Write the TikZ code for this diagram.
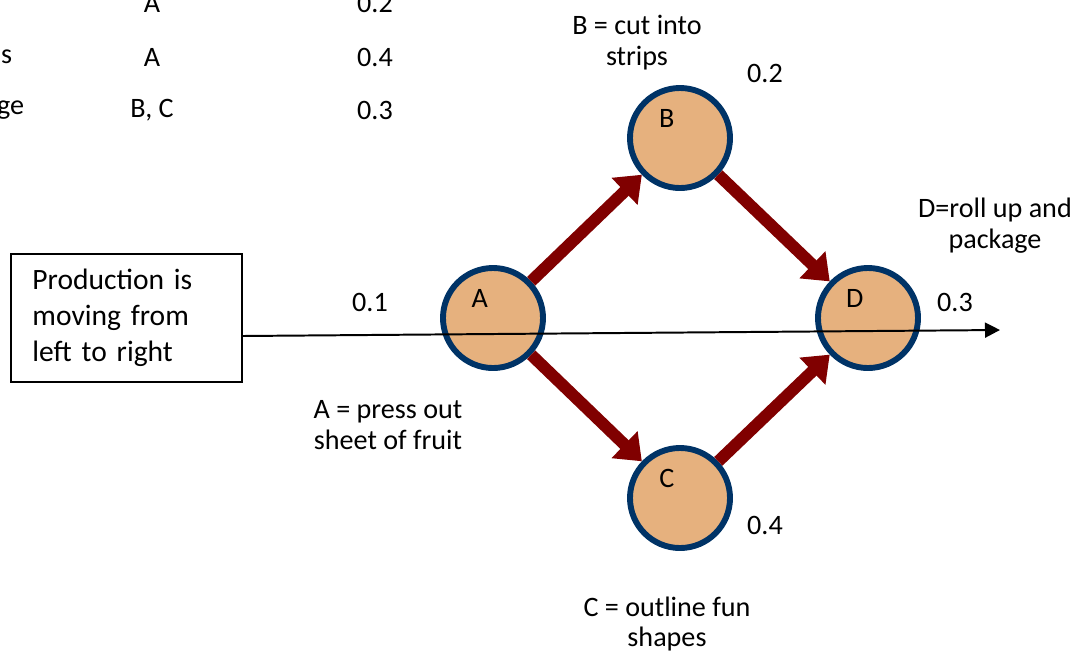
\documentclass[tikz,border=0pt]{standalone}
\usepackage{fontspec}
\setmainfont{Carlito}
\usepackage{xcolor}
\usetikzlibrary{arrows.meta, positioning}
\definecolor{stepfill}{HTML}{E6B17E}
\definecolor{stepedge}{HTML}{003366}
\definecolor{flowred}{HTML}{800000}
\tikzset{
    stepnode/.style={circle, draw=stepedge, fill=stepfill, line width=4.2pt,
        minimum size=2.5cm, inner sep=0pt},
    steplabel/.style={label={[xshift=-0.33cm, yshift=0.5cm, font=\fontsize{20}{22}\selectfont]center:#1}},
    flowarrow/.style={draw=flowred, line width=8.5pt,
        -{Triangle[length=0.6cm, width=0.9cm]}},
    note/.style={align=center, font=\fontsize{20}{22}\selectfont},
    cell/.style={font=\fontsize{20}{22}\selectfont}
}
\begin{document}
\begin{tikzpicture}[x=0.025cm, y=-0.025cm]
        \useasboundingbox (0,0) rectangle (1086,654);
        \clip (0,0) rectangle (1086,654);
        % part of the activity table
        \node[cell] (pre1) at (152,3) {A};
        \node[cell] (dur1) at (375,3) {0.2};
        \node[cell, anchor=east] (act2) at (17,57) {s};
        \node[cell, anchor=east] (act3) at (29,110) {ge};
        \node[cell] (pre2) at (152,57) {A};
        \node[cell] (dur2) at (375,57) {0.4};
        \node[cell] (pre3) at (152,110) {B, C};
        \node[cell] (dur3) at (375,110) {0.3};
        % network
        \node[stepnode, steplabel=A] (a) at (493,318) {};
        \node[stepnode, steplabel=B] (b) at (680,138) {};
        \node[stepnode, steplabel=C] (c) at (680,498) {};
        \node[stepnode, steplabel=D] (d) at (868,318) {};
        \draw[flowarrow] (a) -- (b);
        \draw[flowarrow] (a) -- (c);
        \draw[flowarrow] (b) -- (d);
        \draw[flowarrow] (c) -- (d);
        % durations and descriptions
        \node[note] (ta) at (370,302) {0.1};
        \node[note] (tb) at (765,73) {0.2};
        \node[note] (tc) at (765,525) {0.4};
        \node[note] (td) at (955,302) {0.3};
        \node[note] (na) at (388,425) {A = press out\\sheet of fruit};
        \node[note] (nb) at (637,43) {B = cut into\\strips};
        \node[note] (nc) at (667,624) {C = outline fun\\shapes};
        \node[note] (nd) at (995,226) {D=roll up and\\package};
        % direction of production
        \node[draw, line width=1.4pt, minimum width=5.775cm, minimum height=3.2cm,
            text width=4.7cm, align=left, font=\fontsize{21}{25.5}\selectfont]
            (box) at (126.5,318) {Production is\\moving from\\left to right};
        \coordinate (flowstart) at (242,336);
        \coordinate (flowend) at (1000,330);
        \draw[line width=1.4pt, -{Triangle[length=0.375cm, width=0.375cm]}] (flowstart) -- (flowend);
    \end{tikzpicture}
\end{document}
